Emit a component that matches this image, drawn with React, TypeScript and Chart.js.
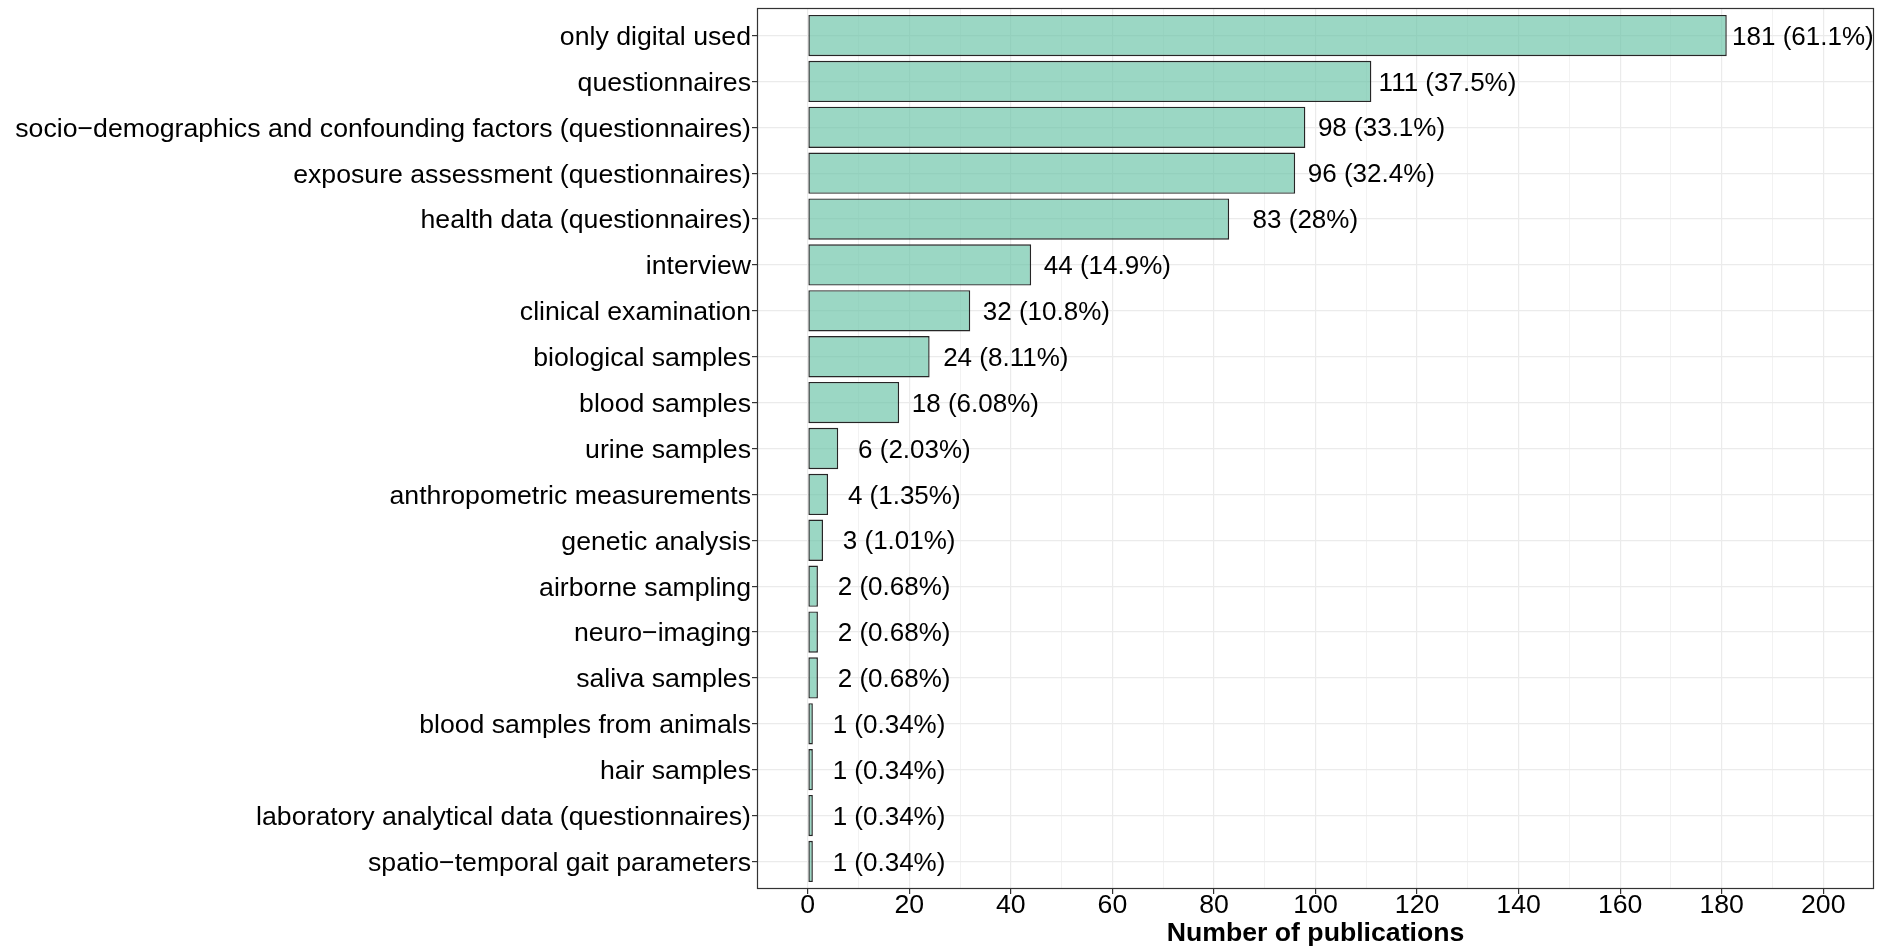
import React, { useEffect, useRef } from "react";
import { Chart, registerables } from "chart.js";

Chart.register(...registerables);

const categories = [
  "only digital used",
  "questionnaires",
  "socio−demographics and confounding factors (questionnaires)",
  "exposure assessment (questionnaires)",
  "health data (questionnaires)",
  "interview",
  "clinical examination",
  "biological samples",
  "blood samples",
  "urine samples",
  "anthropometric measurements",
  "genetic analysis",
  "airborne sampling",
  "neuro−imaging",
  "saliva samples",
  "blood samples from animals",
  "hair samples",
  "laboratory analytical data (questionnaires)",
  "spatio−temporal gait parameters",
];

const counts = [181, 111, 98, 96, 83, 44, 32, 24, 18, 6, 4, 3, 2, 2, 2, 1, 1, 1, 1];

const percents = [
  "61.1", "37.5", "33.1", "32.4", "28", "14.9", "10.8", "8.11", "6.08", "2.03",
  "1.35", "1.01", "0.68", "0.68", "0.68", "0.34", "0.34", "0.34", "0.34",
];

const xTickLabels = [0, 20, 40, 60, 80, 100, 120, 140, 160, 180, 200];
const xTitle = "Number of publications";
const labelNudge = 15;

const FONT = '"Liberation Sans", Arial, sans-serif';

const isMajor = (v: number) => xTickLabels.includes(v);
const isMinor = (v: number) => !isMajor(v) && v > 0 && v < 200;

const panelPlugin = {
  id: "panelPlugin",
  afterDatasetsDraw(chart: any) {
    const { ctx, chartArea, scales } = chart;
    ctx.save();
    ctx.font = `26px ${FONT}`;
    ctx.fillStyle = "#000";
    ctx.textAlign = "center";
    ctx.textBaseline = "middle";
    counts.forEach((c, i) => {
      const x = scales.x.getPixelForValue(c + labelNudge);
      const y = scales.y.getPixelForValue(i) + 2;
      ctx.fillText(`${c} (${percents[i]}%)`, x, y);
    });
    ctx.strokeStyle = "#333333";
    ctx.lineWidth = 1.2;
    ctx.strokeRect(
      Math.round(chartArea.left) + 0.5,
      Math.round(chartArea.top) + 0.5,
      Math.round(chartArea.width) - 1,
      Math.round(chartArea.height) - 1
    );
    ctx.restore();
  },
};

export default function App() {
  const ref = useRef<HTMLCanvasElement | null>(null);

  useEffect(() => {
    if (!ref.current) return;
    const chart = new Chart(ref.current, {
      type: "bar",
      data: {
        datasets: [
          {
            data: counts.map((c, i) => ({ x: c, y: i })),
            backgroundColor: "rgba(102,194,165,0.65)",
            borderColor: "#262626",
            borderWidth: 1.4,
            borderSkipped: false,
            barPercentage: 0.9,
            categoryPercentage: 1,
          },
        ],
      },
      options: {
        indexAxis: "y",
        responsive: false,
        animation: false,
        layout: { padding: { top: 8, right: 18, left: 0, bottom: 0 } },
        plugins: {
          legend: { display: false },
          tooltip: { enabled: false },
        },
        scales: {
          x: {
            type: "linear",
            min: -10,
            max: 210,
            offset: false,
            afterFit: (s: any) => {
              s.height = 62;
              s.paddingLeft = 0;
              s.paddingRight = 0;
            },
            ticks: {
              stepSize: 10,
              autoSkip: false,
              maxRotation: 0,
              padding: -2,
              color: "#000",
              font: { family: FONT, size: 26.67, lineHeight: 1 },
              callback: (v: any) => (isMajor(Number(v)) ? String(v) : ""),
            },
            grid: {
              offset: false,
              color: (c: any) =>
                isMajor(c.tick?.value) ? "#EBEBEB" : isMinor(c.tick?.value) ? "#F2F2F2" : "rgba(0,0,0,0)",
              lineWidth: (c: any) => (isMajor(c.tick?.value) ? 1.2 : 1),
              tickColor: (c: any) => (isMajor(c.tick?.value) ? "#333333" : "rgba(0,0,0,0)"),
              tickLength: 5,
              tickWidth: 1.2,
            },
            border: { display: false },
            title: {
              display: true,
              text: xTitle,
              color: "#000",
              font: { family: FONT, size: 26.67, weight: "bold", lineHeight: 1 },
              padding: { top: 0, bottom: 4 },
            },
          },
          y: {
            type: "linear",
            reverse: true,
            offset: false,
            min: -0.6,
            max: categories.length - 1 + 0.6,
            afterFit: (s: any) => {
              s.width = 757;
              s.paddingTop = 0;
              s.paddingBottom = 0;
            },
            afterBuildTicks: (s: any) => {
              s.ticks = categories.map((_, i) => ({ value: i }));
            },
            ticks: {
              autoSkip: false,
              padding: 1,
              labelOffset: 2,
              color: "#000",
              font: { family: FONT, size: 26.67 },
              callback: (v: any) => categories[Number(v)] ?? "",
            },
            grid: {
              offset: false,
              color: "#EBEBEB",
              lineWidth: 1.2,
              tickColor: "#333333",
              tickLength: 5,
              tickWidth: 1.2,
            },
            border: { display: false },
          },
        },
      },
      plugins: [panelPlugin],
    } as any);
    return () => chart.destroy();
  }, []);

  return (
    <div style={{ position: "fixed", left: 0, top: 0, width: 1892, height: 951, background: "#fff" }}>
      <canvas ref={ref} width={1892} height={951} style={{ display: "block" }} />
    </div>
  );
}
